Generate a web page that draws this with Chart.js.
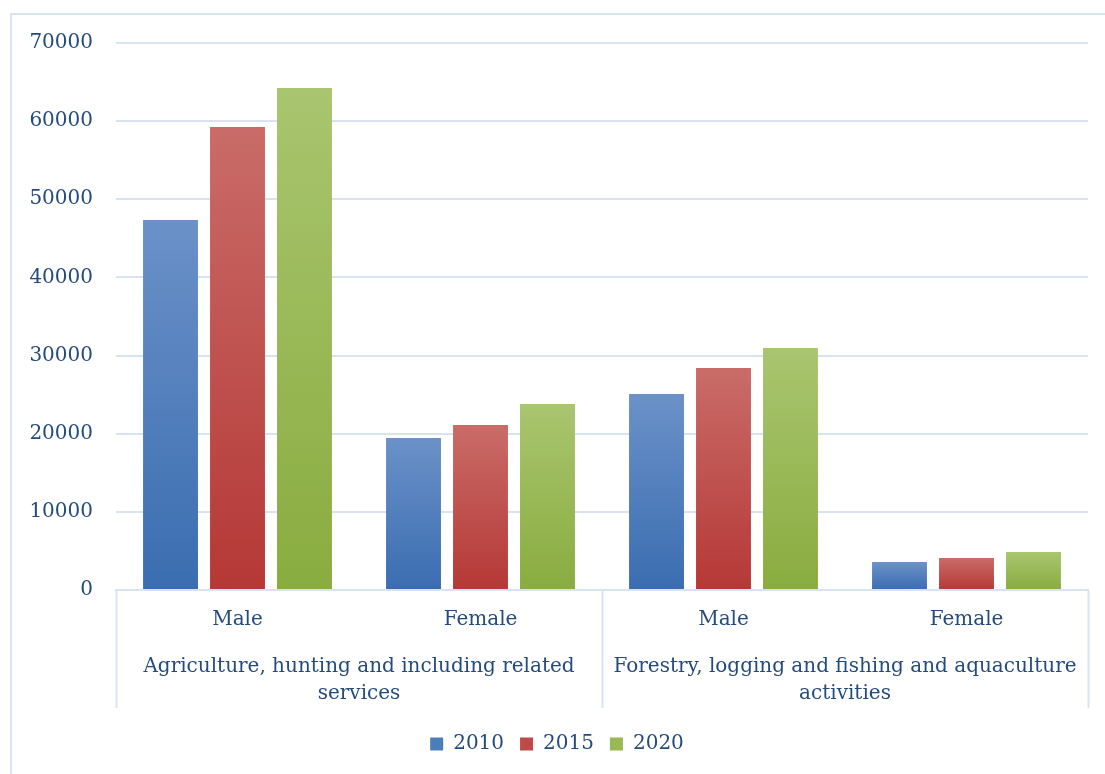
<!DOCTYPE html>
<html>
<head>
<meta charset="utf-8">
<script src="https://cdn.jsdelivr.net/npm/chart.js@4/dist/chart.umd.min.js"></script>
<style>
    html, body { margin: 0; padding: 0; background: #fff; overflow: hidden; width: 1105px; height: 774px; }
    #marco {
        position: absolute; left: 10px; top: 13px; width: 1095px; height: 761px;
        border-top: 2px solid #d8e3f2; border-left: 2px solid #d8e3f2;
        box-sizing: border-box;
    }
    #grafico { position: absolute; left: 0; top: 0; }
</style>
</head>
<body>
<div id="marco"></div>
<canvas id="grafico" width="1105" height="774"></canvas>
<script>
const subcategorias = ['Male', 'Female', 'Male', 'Female'];
const grupos = [
    ['Agriculture, hunting and including related', 'services'],
    ['Forestry, logging and fishing and aquaculture', 'activities']
];
const anios = ['2010', '2015', '2020'];
const valores2010 = [47350, 19450, 25080, 3580];
const valores2015 = [59250, 21120, 28410, 4100];
const valores2020 = [64240, 23800, 30970, 4860];
const ticksY = [0, 10000, 20000, 30000, 40000, 50000, 60000, 70000];

const colorTexto = '#244b7d';
const colorLinea = '#d8e3f2';
const fuente = 'DejaVu Serif';

// tonos: [arriba, abajo, leyenda]
const tonos = [
    ['#6b91c8', '#3a6db0', '#4a7ebb'],
    ['#c96c68', '#b53836', '#be4b48'],
    ['#a9c56f', '#89ac3f', '#98b954']
];

function degradado(i) {
    return (context) => {
        const chart = context.chart;
        if (!chart.chartArea || context.type !== 'data') return tonos[i][2];
        const y = chart.scales.y;
        const arriba = y.getPixelForValue(context.raw);
        const abajo = y.getPixelForValue(0);
        const g = chart.ctx.createLinearGradient(0, arriba, 0, abajo);
        g.addColorStop(0, tonos[i][0]);
        g.addColorStop(1, tonos[i][1]);
        return g;
    };
}

// solo las lineas de los bordes de grupo (la ultima no trae indice)
const lineaGrupo = (ctx) => {
    if (ctx.index === undefined || ctx.index % 2 === 0) return colorLinea;
    return 'rgba(0,0,0,0)';
};

const series = [valores2010, valores2015, valores2020];

new Chart(document.getElementById('grafico'), {
    type: 'bar',
    data: {
        labels: subcategorias,
        datasets: series.map((datos, i) => ({
            label: anios[i],
            data: datos,
            backgroundColor: degradado(i),
            borderWidth: 0,
            categoryPercentage: 0.827,
            barPercentage: 0.82
        }))
    },
    options: {
        responsive: false,
        animation: false,
        layout: { padding: { top: 43, right: 17, bottom: 10, left: 26 } },
        plugins: {
            tooltip: { enabled: false },
            legend: {
                position: 'bottom',
                labels: {
                    color: colorTexto,
                    font: { family: fuente, size: 20 },
                    boxWidth: 13,
                    boxHeight: 13,
                    padding: 16,
                    generateLabels: () => anios.map((a, i) => ({
                        text: a,
                        fillStyle: tonos[i][2],
                        strokeStyle: tonos[i][2],
                        lineWidth: 0,
                        fontColor: colorTexto,
                        datasetIndex: i
                    }))
                }
            }
        },
        scales: {
            y: {
                min: 0,
                max: 70000,
                afterBuildTicks: (scale) => { scale.ticks = ticksY.map(v => ({ value: v })); },
                afterFit: (scale) => { scale.width = 90; },
                border: { display: false },
                grid: { color: colorLinea, lineWidth: 2, drawTicks: false },
                ticks: {
                    color: colorTexto,
                    font: { family: fuente, size: 20 },
                    padding: 23,
                    callback: (v) => String(v)
                }
            },
            x: {
                afterFit: (scale) => { scale.height = 48; },
                border: { display: true, color: colorLinea, width: 2 },
                grid: {
                    offset: true,
                    drawOnChartArea: false,
                    drawTicks: true,
                    tickLength: 48,
                    tickWidth: 2,
                    tickColor: lineaGrupo
                },
                ticks: {
                    color: colorTexto,
                    font: { family: fuente, size: 20 },
                    padding: -30,
                    maxRotation: 0,
                    autoSkip: false
                }
            },
            x2: {
                type: 'category',
                position: 'bottom',
                labels: grupos,
                offset: true,
                afterFit: (scale) => { scale.height = 80; },
                border: { display: false },
                grid: {
                    offset: true,
                    drawOnChartArea: false,
                    drawTicks: true,
                    tickLength: 70,
                    tickWidth: 2,
                    tickColor: colorLinea
                },
                ticks: {
                    color: colorTexto,
                    font: { family: fuente, size: 20, lineHeight: 1.35 },
                    padding: -55,
                    maxRotation: 0,
                    autoSkip: false
                }
            }
        }
    }
});
</script>
</body>
</html>
